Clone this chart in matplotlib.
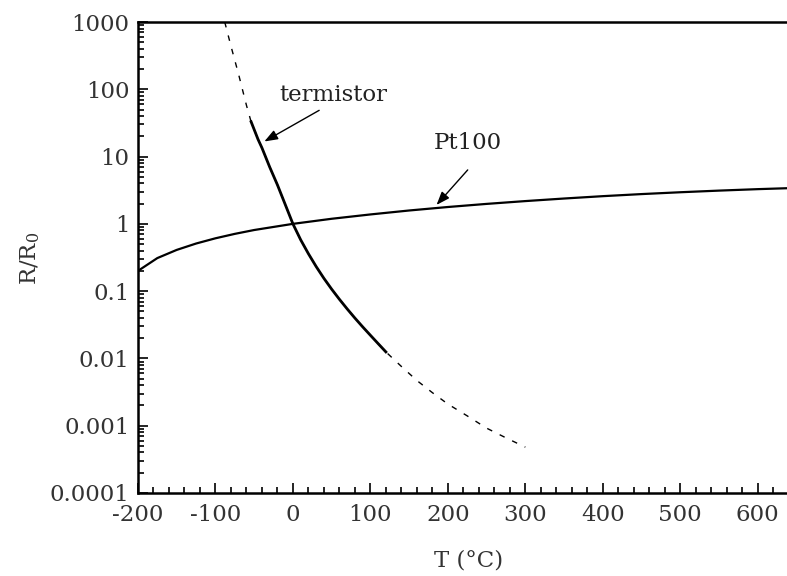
import numpy as np
import matplotlib
matplotlib.use('Agg')
import matplotlib.pyplot as plt
from matplotlib.ticker import MultipleLocator, LogLocator, FixedLocator, NullFormatter, FuncFormatter

plt.rcParams['font.family'] = ['DejaVu Serif']
plt.rcParams['mathtext.fontset'] = 'dejavuserif'

# Pt100 resistance ratio
pt_T = [-200, -175, -150, -125, -100, -75, -50, -25, 0, 50, 100, 150, 200, 250, 300, 350, 400, 450, 500, 550, 600, 650]
pt_R = [0.20, 0.31, 0.41, 0.51, 0.61, 0.71, 0.81, 0.90, 1.0, 1.19, 1.38, 1.58, 1.78, 1.98, 2.18, 2.38, 2.58, 2.77, 2.95, 3.12, 3.28, 3.42]

# thermistor, whole range (dashed) and measured range (solid)
th_T = [-88, -80, -70, -60, -54, -45, -40, -30, -20, -10, 0, 10, 20, 30, 40, 50, 60, 70, 80, 90, 100, 110, 120,
        140, 160, 180, 200, 225, 250, 275, 300]
th_R = [1000, 440, 165, 58, 33, 18, 13.5, 7.0, 3.8, 1.95, 1.0, 0.58, 0.36, 0.232, 0.155, 0.107, 0.0757, 0.0545, 0.0398,
        0.0295, 0.0221, 0.0166, 0.0125, 0.0076, 0.0047, 0.0031, 0.0021, 0.0014, 0.00092, 0.00066, 0.00048]
solid_T = (-54, 120)

fig = plt.figure(figsize=(7.87, 5.76), dpi=100)
ax = fig.add_axes([0.1753, 0.1441, 0.886, 0.8177])

ax.plot(pt_T, pt_R, color='black', lw=1.6)
ax.plot(th_T, th_R, color='black', lw=1.0, linestyle=(0, (4, 6)))
tt = np.array(th_T)
rr = np.array(th_R)
m = (tt >= solid_T[0]) & (tt <= solid_T[1])
ax.plot(tt[m], rr[m], color='black', lw=2.0)

ax.set_yscale('log')
ax.set_ylim(1e-4, 1000)
ax.set_xlim(-200, 700)

ax.xaxis.set_major_locator(MultipleLocator(100))
ax.xaxis.set_minor_locator(MultipleLocator(20))
ax.xaxis.set_major_formatter(FuncFormatter(lambda v, p: '%d' % round(v) if v < 650 else ''))
ax.yaxis.set_major_locator(FixedLocator([1e-4, 1e-3, 1e-2, 1e-1, 1, 10, 100, 1000]))
ax.yaxis.set_minor_locator(LogLocator(base=10, subs=np.arange(2, 10)))
ax.yaxis.set_minor_formatter(NullFormatter())
ax.yaxis.set_major_formatter(FuncFormatter(lambda v, p: ('%f' % v).rstrip('0').rstrip('.')))

ax.tick_params(which='both', direction='in', labelsize=16.5, labelcolor='#333333', width=1.2)
ax.tick_params(which='major', length=7)
ax.tick_params(which='minor', length=4)
ax.tick_params(axis='x', pad=8)
ax.tick_params(axis='y', pad=6)
for s in ['left', 'bottom', 'top']:
    ax.spines[s].set_linewidth(1.8)
ax.spines['right'].set_visible(False)

ax.text(52, 83, 'termistor', fontsize=16.5, color='#222222', ha='center', va='center')
ax.text(226, 16, 'Pt100', fontsize=16.5, color='#222222', ha='center', va='center')
ax.annotate('', xy=(-40, 16), xytext=(37, 51),
            arrowprops=dict(arrowstyle='-|>,head_length=0.8,head_width=0.3', color='black', lw=1.0))
ax.annotate('', xy=(183, 1.78), xytext=(228, 6.8),
            arrowprops=dict(arrowstyle='-|>,head_length=0.8,head_width=0.3', color='black', lw=1.0))

fig.text(469 / 787, 1 - 560 / 576, 'T (°C)', fontsize=16.5, color='#333333', ha='center', va='center')
fig.text(30 / 787, 1 - 258 / 576, 'R/R$_0$', fontsize=16.5, color='#333333', ha='center', va='center', rotation=90)

fig.savefig('out.png', dpi=100)
